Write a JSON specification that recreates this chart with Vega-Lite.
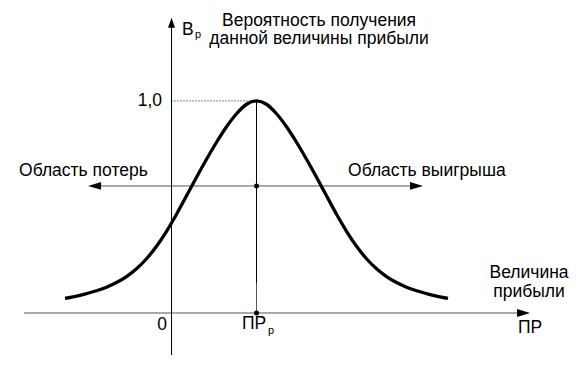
{
  "$schema": "https://vega.github.io/schema/vega-lite/v6.json",
  "width": 587,
  "height": 373,
  "padding": 0,
  "autosize": {"type": "fit", "contains": "padding"},
  "background": "white",
  "config": {"view": {"stroke": null}},
  "datasets": {
    "curve": [
      {"x": -1.2529, "y": 0.0689}, {"x": -1.1176, "y": 0.0797}, {"x": -1.0, "y": 0.0915},
      {"x": -0.8824, "y": 0.1047}, {"x": -0.7647, "y": 0.1217}, {"x": -0.6471, "y": 0.1434},
      {"x": -0.5294, "y": 0.1717}, {"x": -0.4118, "y": 0.2085}, {"x": -0.2941, "y": 0.2557},
      {"x": -0.1765, "y": 0.3146}, {"x": -0.0588, "y": 0.3854}, {"x": 0.0588, "y": 0.4656},
      {"x": 0.1765, "y": 0.5528}, {"x": 0.2941, "y": 0.6401}, {"x": 0.4118, "y": 0.725},
      {"x": 0.5294, "y": 0.8052}, {"x": 0.6471, "y": 0.8783}, {"x": 0.7647, "y": 0.9396},
      {"x": 0.8824, "y": 0.9844}, {"x": 1.0, "y": 1.0},
      {"x": 1.1176, "y": 0.9844}, {"x": 1.2353, "y": 0.9396}, {"x": 1.3529, "y": 0.8783},
      {"x": 1.4706, "y": 0.8052}, {"x": 1.5882, "y": 0.725}, {"x": 1.7059, "y": 0.6401},
      {"x": 1.8235, "y": 0.5528}, {"x": 1.9412, "y": 0.4656}, {"x": 2.0588, "y": 0.3854},
      {"x": 2.1765, "y": 0.3146}, {"x": 2.2941, "y": 0.2557}, {"x": 2.4118, "y": 0.2085},
      {"x": 2.5294, "y": 0.1717}, {"x": 2.6471, "y": 0.1434}, {"x": 2.7647, "y": 0.1217},
      {"x": 2.8824, "y": 0.1047}, {"x": 3.0, "y": 0.0915}, {"x": 3.1176, "y": 0.0797},
      {"x": 3.2529, "y": 0.0689}
    ],
    "blackRules": [
      {"x": 0, "y": -0.198, "x2": 0, "y2": 1.37},
      {"x": 1, "y": 1, "x2": 1, "y2": 0.1415}
    ],
    "grayRules": [
      {"x": -1.735, "y": 0, "x2": 4.16, "y2": 0},
      {"x": -0.92, "y": 0.599, "x2": 2.9, "y2": 0.599},
      {"x": 1, "y": 0.1415, "x2": 1, "y2": 0}
    ],
    "dotted": [
      {"x": 0, "y": 1, "x2": 1, "y2": 1}
    ],
    "arrowsUp": [{"x": 0, "y": 1.392}],
    "arrowsRight": [{"x": 4.218, "y": 0}, {"x": 2.9588, "y": 0.599}],
    "arrowsLeft": [{"x": -0.982, "y": 0.599}],
    "dots": [{"x": 1, "y": 0.599}, {"x": 1, "y": 0}],
    "labels": [
      {"t": "Вероятность получения", "x": 1.7353, "y": 1.3552, "k": "c"},
      {"t": "данной величины прибыли", "x": 1.7353, "y": 1.2665, "k": "c"},
      {"t": "Величина", "x": 4.206, "y": 0.165, "k": "c"},
      {"t": "прибыли", "x": 4.206, "y": 0.0755, "k": "c"},
      {"t": "0", "x": -0.1118, "y": -0.0802, "k": "c"},
      {"t": "ПР", "x": 4.218, "y": -0.0943, "k": "c"},
      {"t": "1,0", "x": -0.1118, "y": 0.976, "k": "r"},
      {"t": "Область потерь", "x": -1.794, "y": 0.6462, "k": "l"},
      {"t": "Область выигрыша", "x": 2.0765, "y": 0.6462, "k": "l"},
      {"t": "В", "x": 0.1235, "y": 1.309, "k": "l"},
      {"t": "ПР", "x": 0.829, "y": -0.0755, "k": "l"},
      {"t": "р", "x": 0.2765, "y": 1.2972, "k": "s"},
      {"t": "р", "x": 1.1353, "y": -0.099, "k": "s"}
    ]
  },
  "encoding": {
    "x": {"field": "x", "type": "quantitative", "axis": null, "scale": {"domain": [-2.018, 4.888], "nice": false, "zero": false}},
    "y": {"field": "y", "type": "quantitative", "axis": null, "scale": {"domain": [-0.283, 1.476], "nice": false, "zero": false}}
  },
  "layer": [
    {
      "data": {"name": "grayRules"},
      "mark": {"type": "rule", "color": "#555555", "strokeWidth": 1},
      "encoding": {"x2": {"field": "x2"}, "y2": {"field": "y2"}}
    },
    {
      "data": {"name": "blackRules"},
      "mark": {"type": "rule", "color": "#000000", "strokeWidth": 1},
      "encoding": {"x2": {"field": "x2"}, "y2": {"field": "y2"}}
    },
    {
      "data": {"name": "dotted"},
      "mark": {"type": "rule", "color": "#000000", "strokeWidth": 1, "strokeDash": [1, 2]},
      "encoding": {"x2": {"field": "x2"}, "y2": {"field": "y2"}}
    },
    {
      "data": {"name": "curve"},
      "mark": {"type": "line", "color": "#000000", "strokeWidth": 3.3, "interpolate": "monotone"},
      "encoding": {}
    },
    {
      "data": {"name": "arrowsUp"},
      "mark": {"type": "point", "filled": true, "color": "#000000", "opacity": 1, "size": 100, "shape": "M0,0L-0.7,2L0.7,2Z"},
      "encoding": {}
    },
    {
      "data": {"name": "arrowsRight"},
      "mark": {"type": "point", "filled": true, "color": "#000000", "opacity": 1, "size": 169, "shape": "M0,0L-2,-0.6L-2,0.6Z"},
      "encoding": {}
    },
    {
      "data": {"name": "arrowsLeft"},
      "mark": {"type": "point", "filled": true, "color": "#000000", "opacity": 1, "size": 169, "shape": "M0,0L2,-0.6L2,0.6Z"},
      "encoding": {}
    },
    {
      "data": {"name": "dots"},
      "mark": {"type": "point", "filled": true, "color": "#000000", "opacity": 1, "size": 25, "shape": "circle"},
      "encoding": {}
    },
    {
      "data": {"name": "labels"},
      "transform": [{"filter": "datum.k === 'c'"}],
      "mark": {"type": "text", "align": "center", "baseline": "alphabetic", "font": "Liberation Sans", "fontSize": 17.5, "color": "#000000"},
      "encoding": {"text": {"field": "t"}}
    },
    {
      "data": {"name": "labels"},
      "transform": [{"filter": "datum.k === 'l'"}],
      "mark": {"type": "text", "align": "left", "baseline": "alphabetic", "font": "Liberation Sans", "fontSize": 17.5, "color": "#000000"},
      "encoding": {"text": {"field": "t"}}
    },
    {
      "data": {"name": "labels"},
      "transform": [{"filter": "datum.k === 'r'"}],
      "mark": {"type": "text", "align": "right", "baseline": "alphabetic", "font": "Liberation Sans", "fontSize": 17.5, "color": "#000000"},
      "encoding": {"text": {"field": "t"}}
    },
    {
      "data": {"name": "labels"},
      "transform": [{"filter": "datum.k === 's'"}],
      "mark": {"type": "text", "align": "left", "baseline": "alphabetic", "font": "Liberation Sans", "fontSize": 11, "color": "#000000"},
      "encoding": {"text": {"field": "t"}}
    }
  ]
}
